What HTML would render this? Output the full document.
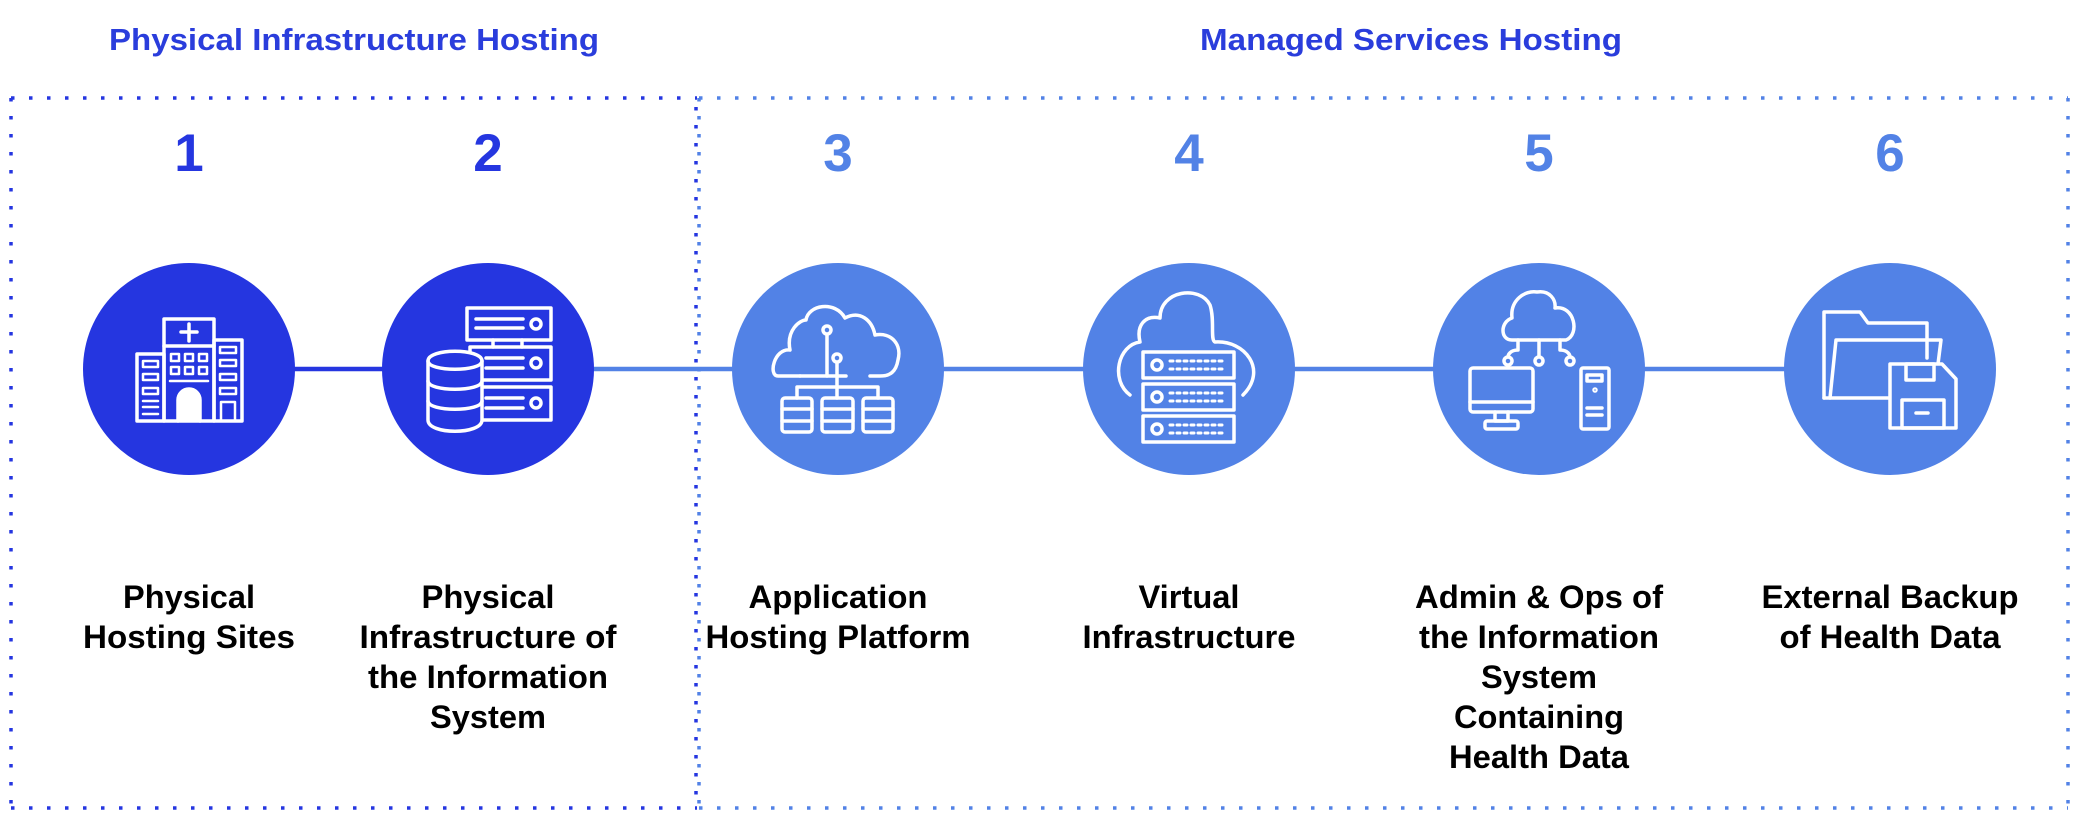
<!DOCTYPE html>
<html><head><meta charset="utf-8"><style>
html,body{margin:0;padding:0;background:#fff;}
svg{display:block;}
text{font-family:"Liberation Sans",sans-serif;font-weight:bold;}
</style></head><body>
<svg width="2080" height="834" viewBox="0 0 2080 834" xmlns="http://www.w3.org/2000/svg">
<!-- titles -->
<text x="109" y="50" font-size="31" fill="#2A3DDC" textLength="490" lengthAdjust="spacingAndGlyphs">Physical Infrastructure Hosting</text>
<text x="1200" y="50" font-size="31" fill="#2A3DDC" textLength="422" lengthAdjust="spacingAndGlyphs">Managed Services Hosting</text>

<!-- dotted boxes -->
<g fill="none" stroke-width="3.5">
<g stroke="#5282E6" stroke-dasharray="3.5 14.5">
<line x1="699" y1="98" x2="2068" y2="98"/>
<line x1="699" y1="808" x2="2068" y2="808"/>
<line x1="2068" y1="98" x2="2068" y2="808"/>
<line x1="699" y1="98" x2="699" y2="808"/>
</g>
<g stroke="#2536E0" stroke-dasharray="3.5 14.5">
<line x1="11" y1="98" x2="697" y2="98"/>
<line x1="11" y1="808" x2="697" y2="808"/>
<line x1="11" y1="98" x2="11" y2="808"/>
<line x1="696" y1="107" x2="696" y2="808"/>
</g>
</g>

<!-- connectors -->
<line x1="290" y1="369" x2="390" y2="369" stroke="#2536E0" stroke-width="4.5"/>
<line x1="590" y1="369" x2="736" y2="369" stroke="#5282E6" stroke-width="4.5"/>
<line x1="940" y1="369" x2="1087" y2="369" stroke="#5282E6" stroke-width="4.5"/>
<line x1="1290" y1="369" x2="1437" y2="369" stroke="#5282E6" stroke-width="4.5"/>
<line x1="1640" y1="369" x2="1788" y2="369" stroke="#5282E6" stroke-width="4.5"/>

<!-- numbers -->
<g font-size="53" text-anchor="middle">
<text x="189" y="171" fill="#2536E0">1</text>
<text x="488" y="171" fill="#2536E0">2</text>
<text x="838" y="171" fill="#5282E6">3</text>
<text x="1189" y="171" fill="#5282E6">4</text>
<text x="1539" y="171" fill="#5282E6">5</text>
<text x="1890" y="171" fill="#5282E6">6</text>
</g>

<!-- circles -->
<circle cx="189" cy="369" r="106" fill="#2536E0"/>
<circle cx="488" cy="369" r="106" fill="#2536E0"/>
<circle cx="838" cy="369" r="106" fill="#5282E6"/>
<circle cx="1189" cy="369" r="106" fill="#5282E6"/>
<circle cx="1539" cy="369" r="106" fill="#5282E6"/>
<circle cx="1890" cy="369" r="106" fill="#5282E6"/>

<!-- icons -->
<g fill="none" stroke="#fff" stroke-width="3.5" stroke-linejoin="round" stroke-linecap="round">
<!-- hospital -->
<rect x="164" y="319" width="50" height="102"/>
<line x1="164" y1="346" x2="214" y2="346"/>
<line x1="189" y1="324" x2="189" y2="341"/><line x1="181" y1="332" x2="197" y2="332"/>
<rect x="137" y="354" width="27" height="67"/>
<rect x="214" y="340" width="28" height="81"/>
<g stroke-width="2.5">
<rect x="171" y="354" width="8" height="7"/><rect x="185" y="354" width="8" height="7"/><rect x="199" y="354" width="8" height="7"/>
<rect x="171" y="367" width="8" height="7"/><rect x="185" y="367" width="8" height="7"/><rect x="199" y="367" width="8" height="7"/>
<line x1="170" y1="381" x2="208" y2="381"/>
<rect x="143" y="361" width="15" height="6"/><rect x="143" y="374" width="15" height="6"/><rect x="143" y="388" width="15" height="6"/>
<line x1="143" y1="401" x2="158" y2="401"/><line x1="143" y1="407" x2="158" y2="407"/><line x1="143" y1="414" x2="158" y2="414"/>
<rect x="220" y="347" width="16" height="6"/><rect x="220" y="360" width="16" height="6"/><rect x="220" y="374" width="16" height="6"/><rect x="220" y="388" width="16" height="6"/>
<rect x="221" y="402" width="14" height="19"/>
</g>
<path d="M178 421 V400 A11 11 0 0 1 200 400 V421" fill="#fff"/>
<!-- servers + db -->
<rect x="467" y="308" width="84" height="32"/>
<rect x="470" y="347" width="81" height="33"/>
<rect x="470" y="387" width="81" height="33"/>
<line x1="476" y1="319" x2="523" y2="319"/><line x1="476" y1="328" x2="523" y2="328"/><circle cx="536" cy="324" r="5"/>
<line x1="486" y1="358" x2="523" y2="358"/><line x1="486" y1="368" x2="523" y2="368"/><circle cx="536" cy="363" r="5"/>
<line x1="486" y1="398" x2="523" y2="398"/><line x1="486" y1="408" x2="523" y2="408"/><circle cx="536" cy="403" r="5"/>
<line x1="493" y1="340" x2="493" y2="347"/><line x1="522" y1="340" x2="522" y2="347"/>
<path d="M428 361 C428 348 482 348 482 361 V420 C482 435 428 435 428 420 Z" fill="#2536E0"/>
<path d="M428 361 C428 372 482 372 482 361"/>
<path d="M428 381 C428 392 482 392 482 381"/>
<path d="M428 401 C428 412 482 412 482 401"/>
<!-- icon 3 cloud network -->
<path d="M800 376 H778 C768 376 774 348 790 350 C786 330 800 320 806 320 C808 305 835 300 845 318 C860 310 872 320 875 335 C892 332 902 345 898 360 C896 372 890 376 880 376 H870"/>
<path d="M846 376 H800"/>
<line x1="827" y1="335" x2="827" y2="376"/><circle cx="827" cy="330" r="4"/>
<line x1="837" y1="363" x2="837" y2="398"/><circle cx="837" cy="358" r="4"/>
<path d="M797 398 V387 H878 V398"/>
<rect x="782" y="398" width="30" height="34" rx="3"/><line x1="782" y1="409" x2="812" y2="409"/><line x1="782" y1="421" x2="812" y2="421"/>
<rect x="822" y="398" width="31" height="34" rx="3"/><line x1="822" y1="409" x2="853" y2="409"/><line x1="822" y1="421" x2="853" y2="421"/>
<rect x="863" y="398" width="30" height="34" rx="3"/><line x1="863" y1="409" x2="893" y2="409"/><line x1="863" y1="421" x2="893" y2="421"/>
<!-- icon 4 cloud servers -->
<path d="M1130 395 C1110 380 1118 345 1140 342 C1136 325 1145 315 1160 318 C1160 290 1200 285 1210 305 C1215 320 1210 340 1215 342 C1245 340 1268 370 1243 395"/>
<rect x="1143" y="352" width="91" height="26" fill="#5282E6"/>
<rect x="1143" y="384" width="91" height="26" fill="#5282E6"/>
<rect x="1143" y="416" width="91" height="26" fill="#5282E6"/>
<circle cx="1157" cy="365" r="5"/><circle cx="1157" cy="397" r="5"/><circle cx="1157" cy="429" r="5"/>
<g stroke-dasharray="3 4" stroke-width="3">
<line x1="1170" y1="361" x2="1226" y2="361"/><line x1="1170" y1="369" x2="1226" y2="369"/>
<line x1="1170" y1="393" x2="1226" y2="393"/><line x1="1170" y1="401" x2="1226" y2="401"/>
<line x1="1170" y1="425" x2="1226" y2="425"/><line x1="1170" y1="433" x2="1226" y2="433"/>
</g>
<!-- icon 5 -->
<path d="M1512 340 C1500 340 1500 322 1512 318 C1510 300 1525 290 1537 292 C1550 290 1556 300 1555 308 C1575 305 1580 335 1566 340 Z"/>
<path d="M1518 340 V350 C1510 350 1508 355 1508 357"/><circle cx="1508" cy="361" r="4"/>
<line x1="1539" y1="340" x2="1539" y2="356"/><circle cx="1539" cy="361" r="4"/>
<path d="M1560 340 V350 C1568 350 1570 355 1570 357"/><circle cx="1570" cy="361" r="4"/>
<rect x="1470" y="368" width="63" height="44" rx="3"/>
<line x1="1470" y1="402" x2="1533" y2="402"/>
<path d="M1495 412 V421 H1508 V412"/><rect x="1485" y="421" width="33" height="8" rx="2"/>
<rect x="1581" y="368" width="28" height="61" rx="2"/>
<rect x="1587" y="375" width="15" height="6"/><circle cx="1595" cy="390" r="1"/>
<line x1="1587" y1="408" x2="1602" y2="408"/><line x1="1587" y1="415" x2="1602" y2="415"/>
<!-- icon 6 folder + floppy -->
<path d="M1824 398 V312 H1860 L1868 323 H1927 V358"/>
<path d="M1830 398 L1836 340 H1941 L1938 364"/>
<path d="M1889 398 H1824"/>
<path d="M1890 364 H1942 L1956 379 V428 H1890 Z" fill="#5282E6"/>
<rect x="1906" y="364" width="28" height="16"/>
<rect x="1902" y="400" width="42" height="28"/>
<line x1="1916" y1="413" x2="1928" y2="413"/>
</g>

<!-- labels -->
<g font-size="32" fill="#000" text-anchor="middle" lengthAdjust="spacingAndGlyphs">
<text x="189" y="608" textLength="132" lengthAdjust="spacingAndGlyphs">Physical</text>
<text x="189" y="648" textLength="212" lengthAdjust="spacingAndGlyphs">Hosting Sites</text>
<text x="488" y="608" textLength="133" lengthAdjust="spacingAndGlyphs">Physical</text>
<text x="488" y="648" textLength="257" lengthAdjust="spacingAndGlyphs">Infrastructure of</text>
<text x="488" y="688" textLength="240" lengthAdjust="spacingAndGlyphs">the Information</text>
<text x="488" y="728" textLength="116" lengthAdjust="spacingAndGlyphs">System</text>
<text x="838" y="608" textLength="179" lengthAdjust="spacingAndGlyphs">Application</text>
<text x="838" y="648" textLength="265" lengthAdjust="spacingAndGlyphs">Hosting Platform</text>
<text x="1189" y="608" textLength="101" lengthAdjust="spacingAndGlyphs">Virtual</text>
<text x="1189" y="648" textLength="213" lengthAdjust="spacingAndGlyphs">Infrastructure</text>
<text x="1539" y="608" textLength="248" lengthAdjust="spacingAndGlyphs">Admin &amp; Ops of</text>
<text x="1539" y="648" textLength="240" lengthAdjust="spacingAndGlyphs">the Information</text>
<text x="1539" y="688" textLength="116" lengthAdjust="spacingAndGlyphs">System</text>
<text x="1539" y="728" textLength="170" lengthAdjust="spacingAndGlyphs">Containing</text>
<text x="1539" y="768" textLength="180" lengthAdjust="spacingAndGlyphs">Health Data</text>
<text x="1890" y="608" textLength="257" lengthAdjust="spacingAndGlyphs">External Backup</text>
<text x="1890" y="648" textLength="221" lengthAdjust="spacingAndGlyphs">of Health Data</text>
</g>
</svg>
</body></html>
